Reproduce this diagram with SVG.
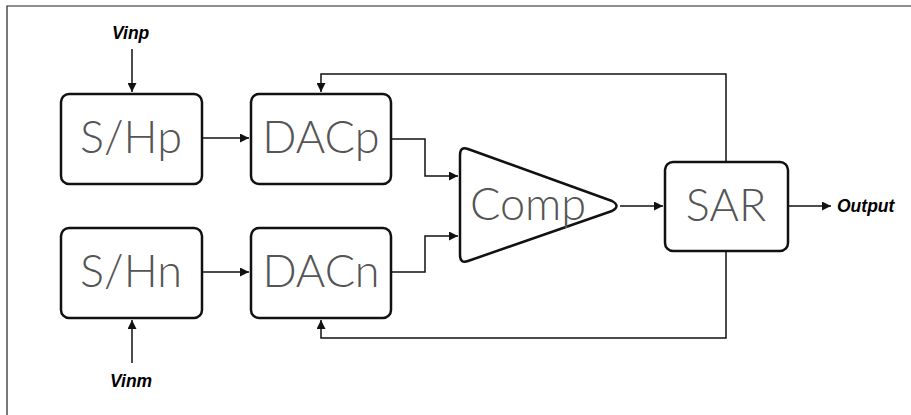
<svg xmlns="http://www.w3.org/2000/svg" width="911" height="415" viewBox="0 0 911 415">
  <style>
    .box { fill: #fff; stroke: #111; stroke-width: 2.5; }
    .wire { fill: none; stroke: #111; stroke-width: 1.5; }
    .name { font-family: Lato, "Liberation Sans", sans-serif; font-weight: 300; font-size: 45px; fill: #555; text-anchor: middle; }
    .pin { font-family: "Liberation Sans", Arial, sans-serif; font-weight: bold; font-style: italic; font-size: 17.5px; fill: #000; }
  </style>
  <defs>
    <marker id="arrow" viewBox="0 0 10 10" refX="10" refY="5" markerWidth="10" markerHeight="9" markerUnits="userSpaceOnUse" orient="auto">
      <path d="M0,0 L10,5 L0,10 Z" fill="#111"/>
    </marker>
  </defs>

  <rect width="911" height="415" fill="#fff"/>
  <!-- frame -->
  <path d="M7,415 V6 H911" fill="none" stroke="#222" stroke-width="1.2"/>

  <g id="connectors">
    <path class="wire" d="M132,49 V92" marker-end="url(#arrow)"/>
    <path class="wire" d="M132,363 V320" marker-end="url(#arrow)"/>
    <path class="wire" d="M202,138 H249" marker-end="url(#arrow)"/>
    <path class="wire" d="M202,272 H249" marker-end="url(#arrow)"/>
    <path class="wire" d="M391,139 H425 V176 H458" marker-end="url(#arrow)"/>
    <path class="wire" d="M391,272 H425 V236 H458" marker-end="url(#arrow)"/>
    <path class="wire" d="M620,206 H663" marker-end="url(#arrow)"/>
    <path class="wire" d="M788,206 H831" marker-end="url(#arrow)"/>
    <path class="wire" d="M726,162 V74 H321 V92" marker-end="url(#arrow)"/>
    <path class="wire" d="M726,251 V338 H321 V320" marker-end="url(#arrow)"/>
  </g>

  <g id="shp">
    <rect class="box" x="61" y="94" width="141" height="90" rx="8"/>
    <text class="name" x="131" y="153">S/Hp</text>
  </g>
  <g id="dacp">
    <rect class="box" x="251" y="94" width="140" height="90" rx="8"/>
    <text class="name" x="321" y="153">DACp</text>
  </g>
  <g id="shn">
    <rect class="box" x="61" y="228" width="141" height="90" rx="8"/>
    <text class="name" x="131" y="287">S/Hn</text>
  </g>
  <g id="dacn">
    <rect class="box" x="251" y="228" width="140" height="90" rx="8"/>
    <text class="name" x="321" y="287">DACn</text>
  </g>
  <g id="comp">
    <path class="box" stroke-linejoin="round" d="M460,155 Q460,146 468,149 L612,201 Q621,206 612,211 L468,261 Q460,264 460,255 Z"/>
    <text class="name" x="528" y="220">Comp</text>
  </g>
  <g id="sar">
    <rect class="box" x="665" y="162" width="123" height="89" rx="8"/>
    <text class="name" x="726" y="221">SAR</text>
  </g>

  <g id="labels">
    <text class="pin" x="112" y="39">Vinp</text>
    <text class="pin" x="110" y="387">Vinm</text>
    <text class="pin" x="837" y="212">Output</text>
  </g>
</svg>
